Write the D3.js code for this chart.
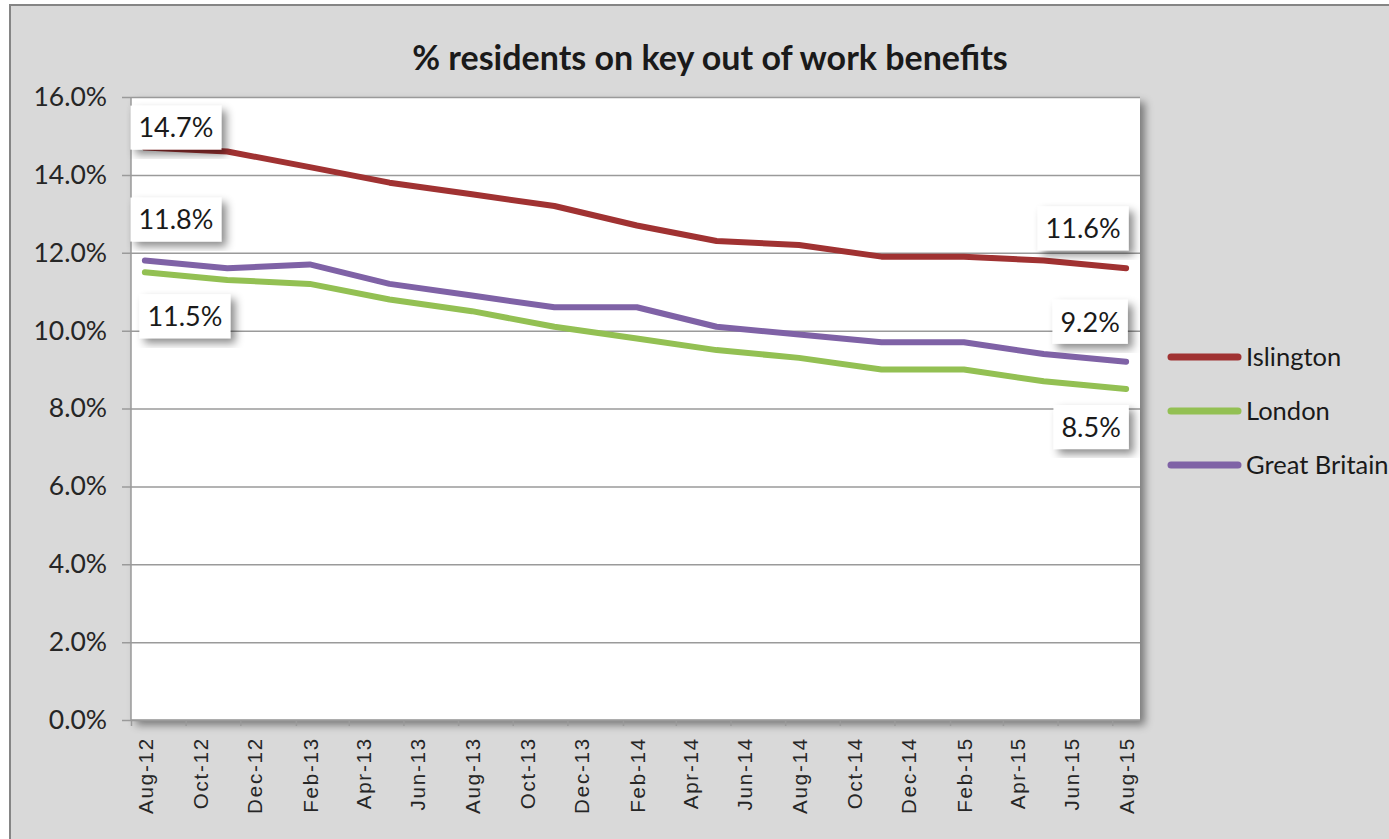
<!DOCTYPE html>
<html>
<head>
<meta charset="utf-8">
<script src="https://cdn.jsdelivr.net/npm/d3@7"></script>
<style>
	body { margin: 0; background: #ffffff; }
	svg { display: block; }
</style>
</head>
<body>
<div id="chart"></div>
<script>

// quarterly readings, % of working age residents
var months = ["Aug-12", "Nov-12", "Feb-13", "May-13", "Aug-13", "Nov-13", "Feb-14",
	"May-14", "Aug-14", "Nov-14", "Feb-15", "May-15", "Aug-15"];
var islington = [14.7, 14.6, 14.2, 13.8, 13.5, 13.2, 12.7, 12.3, 12.2, 11.9, 11.9, 11.8, 11.6];
var london = [11.5, 11.3, 11.2, 10.8, 10.5, 10.1, 9.8, 9.5, 9.3, 9.0, 9.0, 8.7, 8.5];
var greatBritain = [11.8, 11.6, 11.7, 11.2, 10.9, 10.6, 10.6, 10.1, 9.9, 9.7, 9.7, 9.4, 9.2];
var seriesNames = ["Islington", "London", "Great Britain"];
var yTicks = [0, 2, 4, 6, 8, 10, 12, 14, 16];

var title = "% residents on key out of work benefits";

var width = 1389;
var height = 839;
var margin = {top: 97, left: 131, right: 249, bottom: 119};
var plotW = width - margin.left - margin.right;
var plotH = height - margin.top - margin.bottom;

var colors = ["#a03232", "#93c053", "#7f62a6"];
var font = "Lato, 'Open Sans', sans-serif";

var parseMonth = d3.timeParse("%b-%y");
var formatMonth = d3.timeFormat("%b-%y");

var series = [islington, london, greatBritain].map(function(vals, i) {
	return {
		name: seriesNames[i],
		color: colors[i],
		values: vals.map(function(v, j) { return {date: parseMonth(months[j]), value: v}; })
	};
});

// where each data label box sits, relative to its point
var labelSpots = [
	{s: 0, i: 0, dx: 31, dy: -20},
	{s: 2, i: 0, dx: 31, dy: -41},
	{s: 1, i: 0, dx: 40, dy: 44},
	{s: 0, i: 12, dx: -43, dy: -40},
	{s: 2, i: 12, dx: -36, dy: -40},
	{s: 1, i: 12, dx: -35, dy: 38}
];

var first = parseMonth(months[0]);
var last = parseMonth(months[months.length - 1]);

var x = d3.scaleTime()
	.domain([first, d3.timeMonth.offset(last, 1)])
	.range([0, plotW]);
var halfMonth = (x(d3.timeMonth.offset(first, 1)) - x(first)) / 2;

var y = d3.scaleLinear()
	.domain([0, 16])
	.range([plotH, 0]);

var svg = d3.select("#chart").append("svg")
	.attr("width", width)
	.attr("height", height);

var defs = svg.append("defs");
var shadow = defs.append("filter")
	.attr("id", "shadow")
	.attr("x", "-10%").attr("y", "-10%")
	.attr("width", "130%").attr("height", "130%");
shadow.append("feDropShadow")
	.attr("dx", 5).attr("dy", 5)
	.attr("stdDeviation", 4)
	.attr("flood-color", "#000")
	.attr("flood-opacity", 0.45);

// chart area
svg.append("rect")
	.attr("x", 10).attr("y", 5)
	.attr("width", width + 20).attr("height", height + 20)
	.attr("fill", "#d9d9d9")
	.attr("stroke", "#858585")
	.attr("stroke-width", 2);

svg.append("text")
	.attr("x", 710)
	.attr("y", 70)
	.attr("text-anchor", "middle")
	.style("font-family", font)
	.style("font-weight", "bold")
	.style("font-size", "34px")
	.attr("fill", "#1a1a1a")
	.text(title);

var g = svg.append("g")
	.attr("transform", "translate(" + margin.left + "," + margin.top + ")");

g.append("rect")
	.attr("width", plotW)
	.attr("height", plotH)
	.attr("fill", "#ffffff")
	.attr("filter", "url(#shadow)");

// gridlines + y axis
var yAxis = g.append("g")
	.call(d3.axisLeft(y)
		.tickValues(yTicks)
		.tickSize(9)
		.tickPadding(15)
		.tickFormat(function(d) { return d.toFixed(1) + "%"; }));
yAxis.selectAll(".tick line")
	.attr("x2", plotW)
	.attr("x1", -9);
yAxis.selectAll("line, path").attr("stroke", "#9a9a9a").attr("stroke-width", 1.5);
yAxis.select(".domain").attr("d", "M0," + plotH + "V0");
yAxis.selectAll("text")
	.style("font-family", font)
	.style("font-size", "26.5px")
	.attr("fill", "#262626");

// x axis, ticks every two months, labels centred on the month
var tickDates = d3.timeMonth.range(first, d3.timeMonth.offset(last, 1), 2);
var xAxis = g.append("g")
	.attr("transform", "translate(0," + plotH + ")")
	.call(d3.axisBottom(x)
		.tickValues(tickDates)
		.tickSize(6)
		.tickFormat(""));
xAxis.selectAll("line, path").attr("stroke", "#9a9a9a").attr("stroke-width", 1.5);
xAxis.select(".domain").attr("d", "M0,0H" + plotW);

xAxis.selectAll(".month")
	.data(tickDates)
	.enter()
	.append("text")
	.attr("class", "month")
	.attr("transform", function(d) {
		return "translate(" + (x(d) + halfMonth + 8) + ",17) rotate(-90)";
	})
	.attr("text-anchor", "end")
	.style("font-family", "'Liberation Sans', Arial, sans-serif")
	.style("font-size", "20.5px")
	.style("letter-spacing", "1.8px")
	.attr("fill", "#262626")
	.text(function(d) { return formatMonth(d); });

var line = d3.line()
	.x(function(d) { return x(d.date) + halfMonth; })
	.y(function(d) { return y(d.value); });

g.selectAll(".series")
	.data(series)
	.enter()
	.append("path")
	.attr("class", "series")
	.attr("d", function(d) { return line(d.values); })
	.attr("fill", "none")
	.attr("stroke", function(d) { return d.color; })
	.attr("stroke-width", 6)
	.attr("stroke-linejoin", "round")
	.attr("stroke-linecap", "round");

// data labels
var labels = g.selectAll(".dlabel")
	.data(labelSpots)
	.enter()
	.append("g")
	.attr("class", "dlabel")
	.attr("transform", function(d) {
		var p = series[d.s].values[d.i];
		return "translate(" + (x(p.date) + halfMonth + d.dx) + "," + (y(p.value) + d.dy) + ")";
	});

labels.append("text")
	.attr("text-anchor", "middle")
	.attr("dy", "0.36em")
	.style("font-family", font)
	.style("font-size", "27px")
	.attr("fill", "#1a1a1a")
	.text(function(d) { return series[d.s].values[d.i].value.toFixed(1) + "%"; });

labels.insert("rect", "text")
	.each(function() {
		var t = d3.select(this.parentNode).select("text").node().getBBox();
		d3.select(this)
			.attr("x", -t.width / 2 - 8)
			.attr("y", -22)
			.attr("width", t.width + 16)
			.attr("height", 44);
	})
	.attr("fill", "#ffffff")
	.attr("filter", "url(#shadow)");

// legend
var legend = svg.append("g")
	.attr("transform", "translate(1168,357)");

var items = legend.selectAll(".item")
	.data(series)
	.enter()
	.append("g")
	.attr("class", "item")
	.attr("transform", function(d, i) { return "translate(0," + (i * 54) + ")"; });

items.append("line")
	.attr("x1", 3).attr("x2", 70)
	.attr("stroke", function(d) { return d.color; })
	.attr("stroke-width", 7)
	.attr("stroke-linecap", "round");

items.append("text")
	.attr("x", 78)
	.attr("dy", "0.35em")
	.style("font-family", font)
	.style("font-size", "25.5px")
	.attr("fill", "#1a1a1a")
	.text(function(d) { return d.name; });

</script>
</body>
</html>
